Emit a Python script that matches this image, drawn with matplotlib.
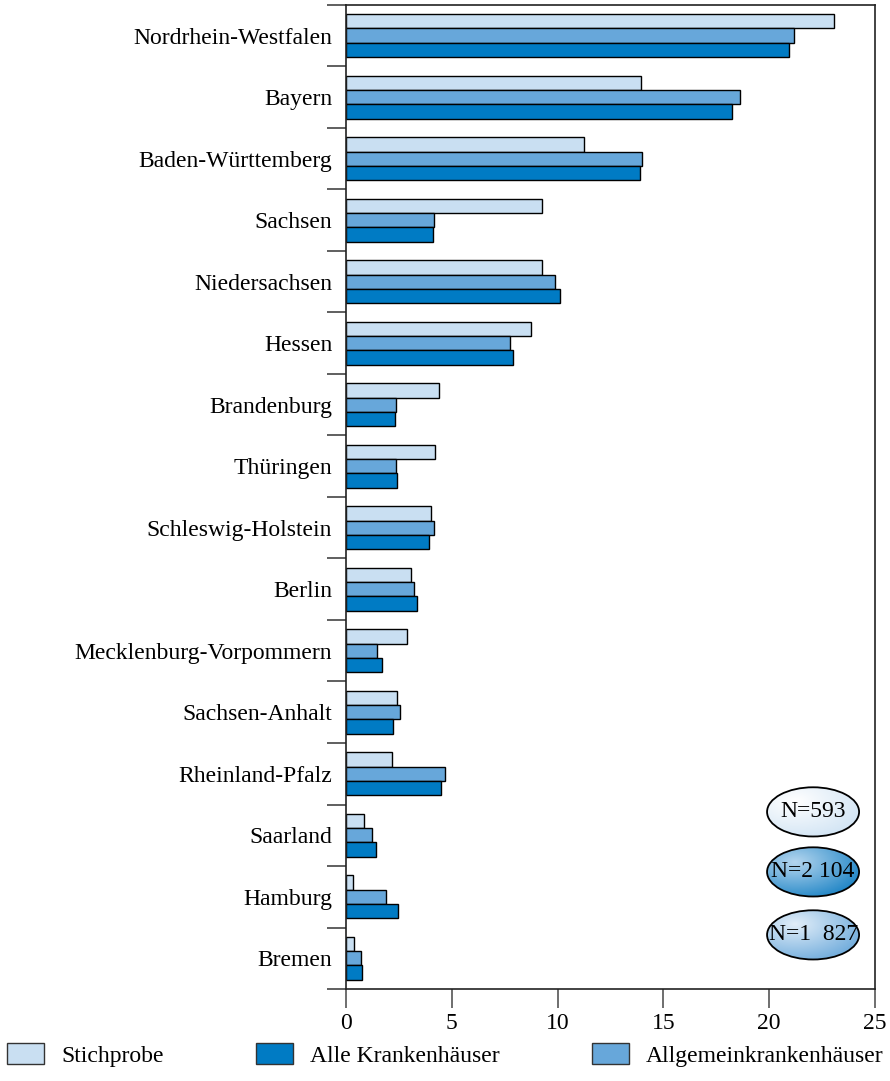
import matplotlib
matplotlib.use('Agg')
import matplotlib.pyplot as plt
import numpy as np
from matplotlib.patches import Ellipse, Patch

plt.rcParams['font.family'] = ['Liberation Serif', 'DejaVu Serif']

laender = ['Nordrhein-Westfalen', 'Bayern', 'Baden-Württemberg', 'Sachsen',
           'Niedersachsen', 'Hessen', 'Brandenburg', 'Thüringen',
           'Schleswig-Holstein', 'Berlin', 'Mecklenburg-Vorpommern',
           'Sachsen-Anhalt', 'Rheinland-Pfalz', 'Saarland', 'Hamburg', 'Bremen']

# Anteil in %
stichprobe = [23.06, 13.95, 11.26, 9.26, 9.26, 8.74, 4.41, 4.22, 4.03, 3.07, 2.87, 2.39, 2.19, 0.85, 0.35, 0.36]
allgemein = [21.19, 18.64, 14.00, 4.15, 9.89, 7.77, 2.35, 2.35, 4.16, 3.23, 1.48, 2.55, 4.70, 1.24, 1.87, 0.69]
alle = [20.92, 18.23, 13.91, 4.12, 10.13, 7.89, 2.31, 2.43, 3.92, 3.34, 1.72, 2.23, 4.51, 1.40, 2.44, 0.74]

serien = ['Stichprobe', 'Alle Krankenhäuser', 'Allgemeinkrankenhäuser']
n_labels = ['N=593', 'N=2 104', 'N=1  827']

c_hell = '#c9dff2'
c_mittel = '#67a7da'
c_dunkel = '#007bc4'

fs = 17

fig = plt.figure(figsize=(8.9, 10.81), dpi=100)
ax = fig.add_axes([0.3888, 0.0851, 0.5943, 0.9103])

y = np.arange(len(laender))
h = 0.235
ax.barh(y - h, stichprobe, height=h, color=c_hell, edgecolor='black', linewidth=1)
ax.barh(y, allgemein, height=h, color=c_mittel, edgecolor='black', linewidth=1)
ax.barh(y + h, alle, height=h, color=c_dunkel, edgecolor='black', linewidth=1)

ax.set_xlim(0, 25)
ax.set_ylim(len(laender) - 0.5, -0.5)
ax.set_xticks([0, 5, 10, 15, 20, 25])
ax.set_yticks(y)
ax.set_yticklabels(laender)
ax.set_yticks(np.arange(-0.5, len(laender)), minor=True)
ax.tick_params(axis='y', which='major', length=0, pad=10, labelsize=fs)
ax.tick_params(axis='y', which='minor', length=14, width=1.2, color='#444444')
ax.tick_params(axis='x', length=14, width=1.2, color='#555555', labelsize=fs, pad=3)
for s in ax.spines.values():
    s.set_color('#222222')
    s.set_linewidth(1.2)

# N-Ellipsen mit Verlauf
verlaeufe = [('#ffffff', c_hell), ('#b5d6ef', '#0074bd'), ('#e2eef9', '#5a9fd6')]
ys = [0.180, 0.119, 0.055]
gx, gy = np.meshgrid(np.linspace(0, 1, 200), np.linspace(0, 1, 200))
for lab, (ca, cb), yc in zip(n_labels, verlaeufe, ys):
    w, hh = 0.174, 0.05
    ell = Ellipse((0.883, yc), w, hh, transform=ax.transAxes,
                  facecolor='none', edgecolor='black', linewidth=1.3, zorder=6)
    ax.add_patch(ell)
    d = np.sqrt((gx - 0.3) ** 2 + (gy - 0.3) ** 2) / 0.95
    d = np.clip(d, 0, 1)
    a = np.array(matplotlib.colors.to_rgb(ca))
    b = np.array(matplotlib.colors.to_rgb(cb))
    img = a[None, None, :] * (1 - d[..., None]) + b[None, None, :] * d[..., None]
    im = ax.imshow(img, extent=(0.883 - w / 2, 0.883 + w / 2, yc - hh / 2, yc + hh / 2),
                   transform=ax.transAxes, origin='upper', aspect='auto', zorder=5)
    im.set_clip_path(ell)
    ax.text(0.883, yc, lab, transform=ax.transAxes, ha='center', va='center',
            fontsize=fs, zorder=7)

handles = [Patch(facecolor=c_hell, edgecolor='#333333'),
           Patch(facecolor=c_dunkel, edgecolor='#333333'),
           Patch(facecolor=c_mittel, edgecolor='#333333')]
fig.legend(handles, serien, loc='center left', bbox_to_anchor=(0.008, 0.024),
           ncol=3, frameon=False, fontsize=fs, handlelength=1.57, handleheight=1.0,
           handletextpad=0.72, columnspacing=3.9, borderpad=0, borderaxespad=0)

fig.savefig('out.png', dpi=100)
